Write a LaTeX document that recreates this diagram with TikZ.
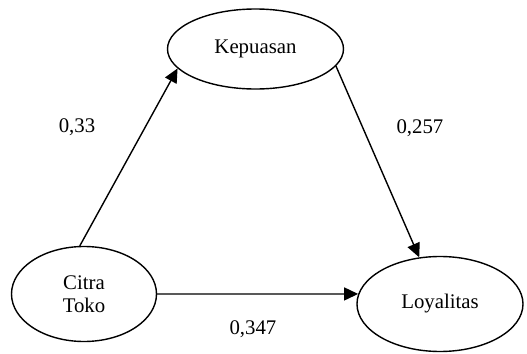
\documentclass[tikz,border=0pt]{standalone}
\usepackage{fontspec}
\setmainfont{Liberation Serif}
\usepackage{tikz}
\usetikzlibrary{shapes.geometric,arrows.meta,positioning}

\begin{document}
\begin{tikzpicture}[x=0.5pt,y=-0.5pt,
    font=\fontsize{10.4}{11.5}\selectfont,
    var/.style={ellipse, draw, line width=0.7pt, inner sep=0pt},
    path/.style={line width=0.7pt, -{Triangle[length=7pt,width=6.5pt]}}]

    \useasboundingbox (0,0) rectangle (527,354);

    % Nodes
    \node[var, minimum width=88pt, minimum height=40pt] (kepuasan) at (255.5,49) {Kepuasan};
    \node[var, minimum width=72.5pt, minimum height=47.5pt, align=center] (citra) at (84,294) {Citra\\Toko};
    \node[var, minimum width=83pt, minimum height=47.5pt] (loyalitas) at (440,304) {Loyalitas};

    % Paths
    \draw[path] (citra.95) -- (kepuasan.194);
    \draw[path] (kepuasan.-12) -- (loyalitas.114);
    \draw[path] (citra.east) -- (loyalitas.173);

    % Coefficients
    \node (c1) at (77,127) {0,33};
    \node (c2) at (420,128) {0,257};
    \node (c3) at (253,329) {0,347};
\end{tikzpicture}
\end{document}
